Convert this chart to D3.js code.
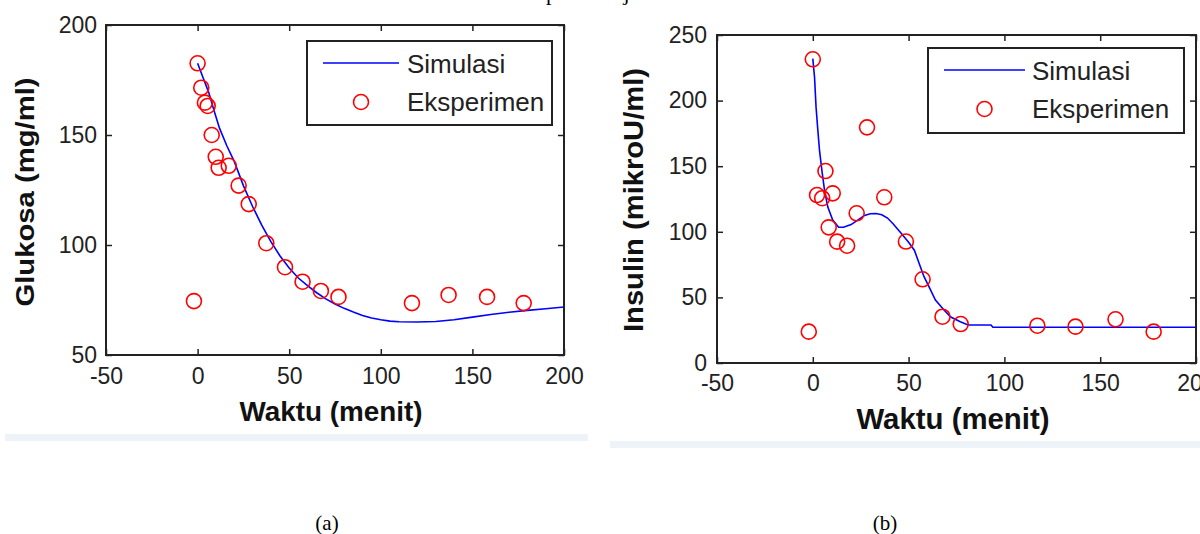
<!DOCTYPE html>
<html>
<head>
<meta charset="utf-8">
<script src="https://cdn.jsdelivr.net/npm/d3@7"></script>
<style>
  body { margin: 0; background: #fff; }
  svg { display: block; }
  .tick text { font-family: "Liberation Sans", Arial, sans-serif; fill: #222; }
</style>
</head>
<body>
<svg id="vis" width="1200" height="534"></svg>
<script>
// (a) glukosa: eksperimen
const glukosaWaktu = [-2, 0, 2, 4, 5.5, 7.7, 9.9, 11.5, 17, 22.4, 27.9, 37.5, 47.7, 57.3, 67.3, 76.9, 117, 137, 158, 178];
const glukosaEksp = [74.5, 182.6, 171.5, 164.7, 163.2, 150, 140.1, 135.1, 136, 127, 118.6, 100.8, 89.9, 83.3, 79.1, 76.4, 73.6, 77.3, 76.4, 73.6];
// (a) glukosa: simulasi
const glukosaSimWaktu = [0, 3, 6, 9, 12, 16, 20, 25, 30, 35, 40, 45, 50, 55, 60, 65, 70, 75, 80, 85, 90, 95, 100, 105, 110, 120, 130, 140, 150, 160, 170, 180, 190, 200];
const glukosaSim = [182.6, 176, 169.5, 161, 153, 145, 138, 127, 117.5, 109, 101.5, 95, 89.5, 85, 81.5, 78.3, 75.5, 73.2, 71.2, 69.5, 68, 66.8, 66, 65.4, 65.1, 65, 65.2, 66, 67.2, 68.4, 69.4, 70.3, 71, 71.8];

// (b) insulin: eksperimen
const insulinWaktu = [-2.1, 0, 2.2, 4.9, 6.6, 8.3, 10.4, 12.7, 17.9, 22.9, 28.3, 37.3, 48.6, 57.3, 67.7, 77.2, 117.2, 137.1, 158, 177.9];
const insulinEksp = [23.9, 231.5, 128, 125.6, 146.3, 103.4, 129.3, 92.5, 89.4, 114.1, 179.6, 126.3, 92.6, 63.8, 35.3, 29.7, 28.4, 27.7, 33.3, 23.9];
// (b) insulin: simulasi
const insulinSimWaktu = [0, 0.9, 1.7, 2.6, 3.5, 4.9, 6.1, 7.8, 10.4, 13.5, 16, 20, 24, 27, 30, 33, 36, 39, 42, 46, 50, 53, 56, 58, 61, 64, 68.5, 72, 77, 81, 93, 94, 200];
const insulinSim = [232, 218, 195, 178, 162, 145, 132, 119, 109, 103.5, 103.5, 105.5, 109.5, 112.5, 113.8, 114, 113, 110.5, 106, 99, 92, 86, 74, 66, 57, 48, 40.4, 35, 31.5, 29, 29, 27.2, 27.2];

const xTicks = [-50, 0, 50, 100, 150, 200];
const legendLabels = ["Simulasi", "Eksperimen"];

var svg = d3.select("#vis");
var plain = d => String(d); // matlab uses a hyphen, not the unicode minus

function drawPanel(p) {
  var g = svg.append("g");
  var x = d3.scaleLinear().domain([-50, 200]).range([p.left, p.right]);
  var y = d3.scaleLinear().domain(p.yDomain).range([p.bottom, p.top]);

  // simulasi line
  g.append("path")
    .datum(d3.zip(p.simX, p.simY))
    .attr("fill", "none")
    .attr("stroke", "#0000ff")
    .attr("stroke-width", 1.6)
    .attr("d", d3.line().x(d => x(d[0])).y(d => y(d[1])));

  // eksperimen circles
  g.selectAll("circle.pt")
    .data(d3.zip(p.ptX, p.ptY))
    .join("circle")
    .attr("class", "pt")
    .attr("cx", d => x(d[0]))
    .attr("cy", d => y(d[1]))
    .attr("r", 7.5)
    .attr("fill", "none")
    .attr("stroke", "#ff0000")
    .attr("stroke-width", 1.6);

  // axes, ticks pointing inward like matlab
  var fs = p.tickFont;
  g.append("g")
    .attr("transform", "translate(0," + p.bottom + ")")
    .call(d3.axisBottom(x).tickValues(xTicks).tickFormat(plain).tickSize(-6).tickSizeOuter(0).tickPadding(p.xPad))
    .call(a => a.selectAll("text").attr("font-size", fs));
  g.append("g")
    .attr("transform", "translate(0," + p.top + ")")
    .call(d3.axisTop(x).tickValues(xTicks).tickSize(-6).tickSizeOuter(0).tickFormat(""));
  g.append("g")
    .attr("transform", "translate(" + p.left + ",0)")
    .call(d3.axisLeft(y).tickValues(p.yTicks).tickFormat(plain).tickSize(-6).tickSizeOuter(0).tickPadding(p.yPad))
    .call(a => a.selectAll("text").attr("font-size", fs));
  g.append("g")
    .attr("transform", "translate(" + p.right + ",0)")
    .call(d3.axisRight(y).tickValues(p.yTicks).tickSize(-6).tickSizeOuter(0).tickFormat(""));
  g.selectAll(".domain").remove();
  g.selectAll(".tick line").attr("stroke", "#222").attr("stroke-width", 1.5);

  g.append("rect")
    .attr("x", p.left).attr("y", p.top)
    .attr("width", p.right - p.left).attr("height", p.bottom - p.top)
    .attr("fill", "none").attr("stroke", "#222").attr("stroke-width", 2);

  // axis titles
  g.append("text")
    .attr("x", p.xLabel[0]).attr("y", p.xLabel[1])
    .attr("text-anchor", "middle")
    .attr("font-family", "'Liberation Sans', Arial, sans-serif")
    .attr("font-weight", "bold").attr("font-size", p.xLabel[2])
    .attr("textLength", p.xLabel[3]).attr("lengthAdjust", "spacingAndGlyphs")
    .attr("fill", "#111")
    .text("Waktu (menit)");
  g.append("text")
    .attr("transform", "translate(" + p.yLabel[0] + "," + p.yLabel[1] + ") rotate(-90)")
    .attr("text-anchor", "middle")
    .attr("font-family", "'Liberation Sans', Arial, sans-serif")
    .attr("font-weight", "bold").attr("font-size", p.yLabel[2])
    .attr("textLength", p.yLabel[3]).attr("lengthAdjust", "spacingAndGlyphs")
    .attr("fill", "#111")
    .text(p.yTitle);

  // legend
  var L = p.legend;
  g.append("rect")
    .attr("x", L.x).attr("y", L.y).attr("width", L.w).attr("height", L.h)
    .attr("fill", "#fff").attr("stroke", "#222").attr("stroke-width", 2);
  g.append("line")
    .attr("x1", L.x + 16).attr("x2", L.x + 16 + L.lineLen)
    .attr("y1", L.y + 22).attr("y2", L.y + 22)
    .attr("stroke", "#0000ff").attr("stroke-width", 1.6);
  g.append("circle")
    .attr("cx", L.x + 16 + L.lineLen / 2).attr("cy", L.y + 61)
    .attr("r", 7.5).attr("fill", "none")
    .attr("stroke", "#ff0000").attr("stroke-width", 1.6);
  g.selectAll("text.leg")
    .data(legendLabels)
    .join("text")
    .attr("class", "leg")
    .attr("x", L.x + L.textDx)
    .attr("y", (d, i) => L.y + 32 + i * 38)
    .attr("font-family", "'Liberation Sans', Arial, sans-serif")
    .attr("font-size", 26)
    .attr("fill", "#222")
    .text(d => d);
}

drawPanel({
  left: 106, right: 564, top: 25, bottom: 355,
  yDomain: [50, 200], yTicks: [50, 100, 150, 200],
  simX: glukosaSimWaktu, simY: glukosaSim, ptX: glukosaWaktu, ptY: glukosaEksp,
  tickFont: 23, xPad: 13, yPad: 9,
  xLabel: [331, 421, 27, 183], yLabel: [34, 192, 26, 229],
  yTitle: "Glukosa (mg/ml)",
  legend: {x: 307, y: 41, w: 245, h: 84, lineLen: 76, textDx: 100}
});

drawPanel({
  left: 717, right: 1196, top: 35, bottom: 363,
  yDomain: [0, 250], yTicks: [0, 50, 100, 150, 200, 250],
  simX: insulinSimWaktu, simY: insulinSim, ptX: insulinWaktu, ptY: insulinEksp,
  tickFont: 23, xPad: 12, yPad: 10,
  xLabel: [953, 429, 29, 193], yLabel: [643, 200, 28, 264],
  yTitle: "Insulin (mikroU/ml)",
  legend: {x: 928, y: 48, w: 256, h: 85, lineLen: 81, textDx: 104}
});

// light strips under each figure
svg.append("rect").attr("x", 5).attr("y", 434).attr("width", 583).attr("height", 7).attr("fill", "#eef2f9");
svg.append("rect").attr("x", 610).attr("y", 441).attr("width", 590).attr("height", 7).attr("fill", "#eef2f9");

// captions
var serif = "'Liberation Serif', 'Times New Roman', serif";
svg.append("text").attr("x", 327).attr("y", 530).attr("text-anchor", "middle")
  .attr("font-family", serif).attr("font-size", 21).text("(a)");
svg.append("text").attr("x", 885).attr("y", 530).attr("text-anchor", "middle")
  .attr("font-family", serif).attr("font-size", 21).text("(b)");
// caption line cut by the top edge, only its descenders show
svg.append("text").attr("x", 546).attr("y", 0)
  .attr("font-family", serif).attr("font-size", 22).text("pada subjek 1.");
</script>
</body>
</html>
